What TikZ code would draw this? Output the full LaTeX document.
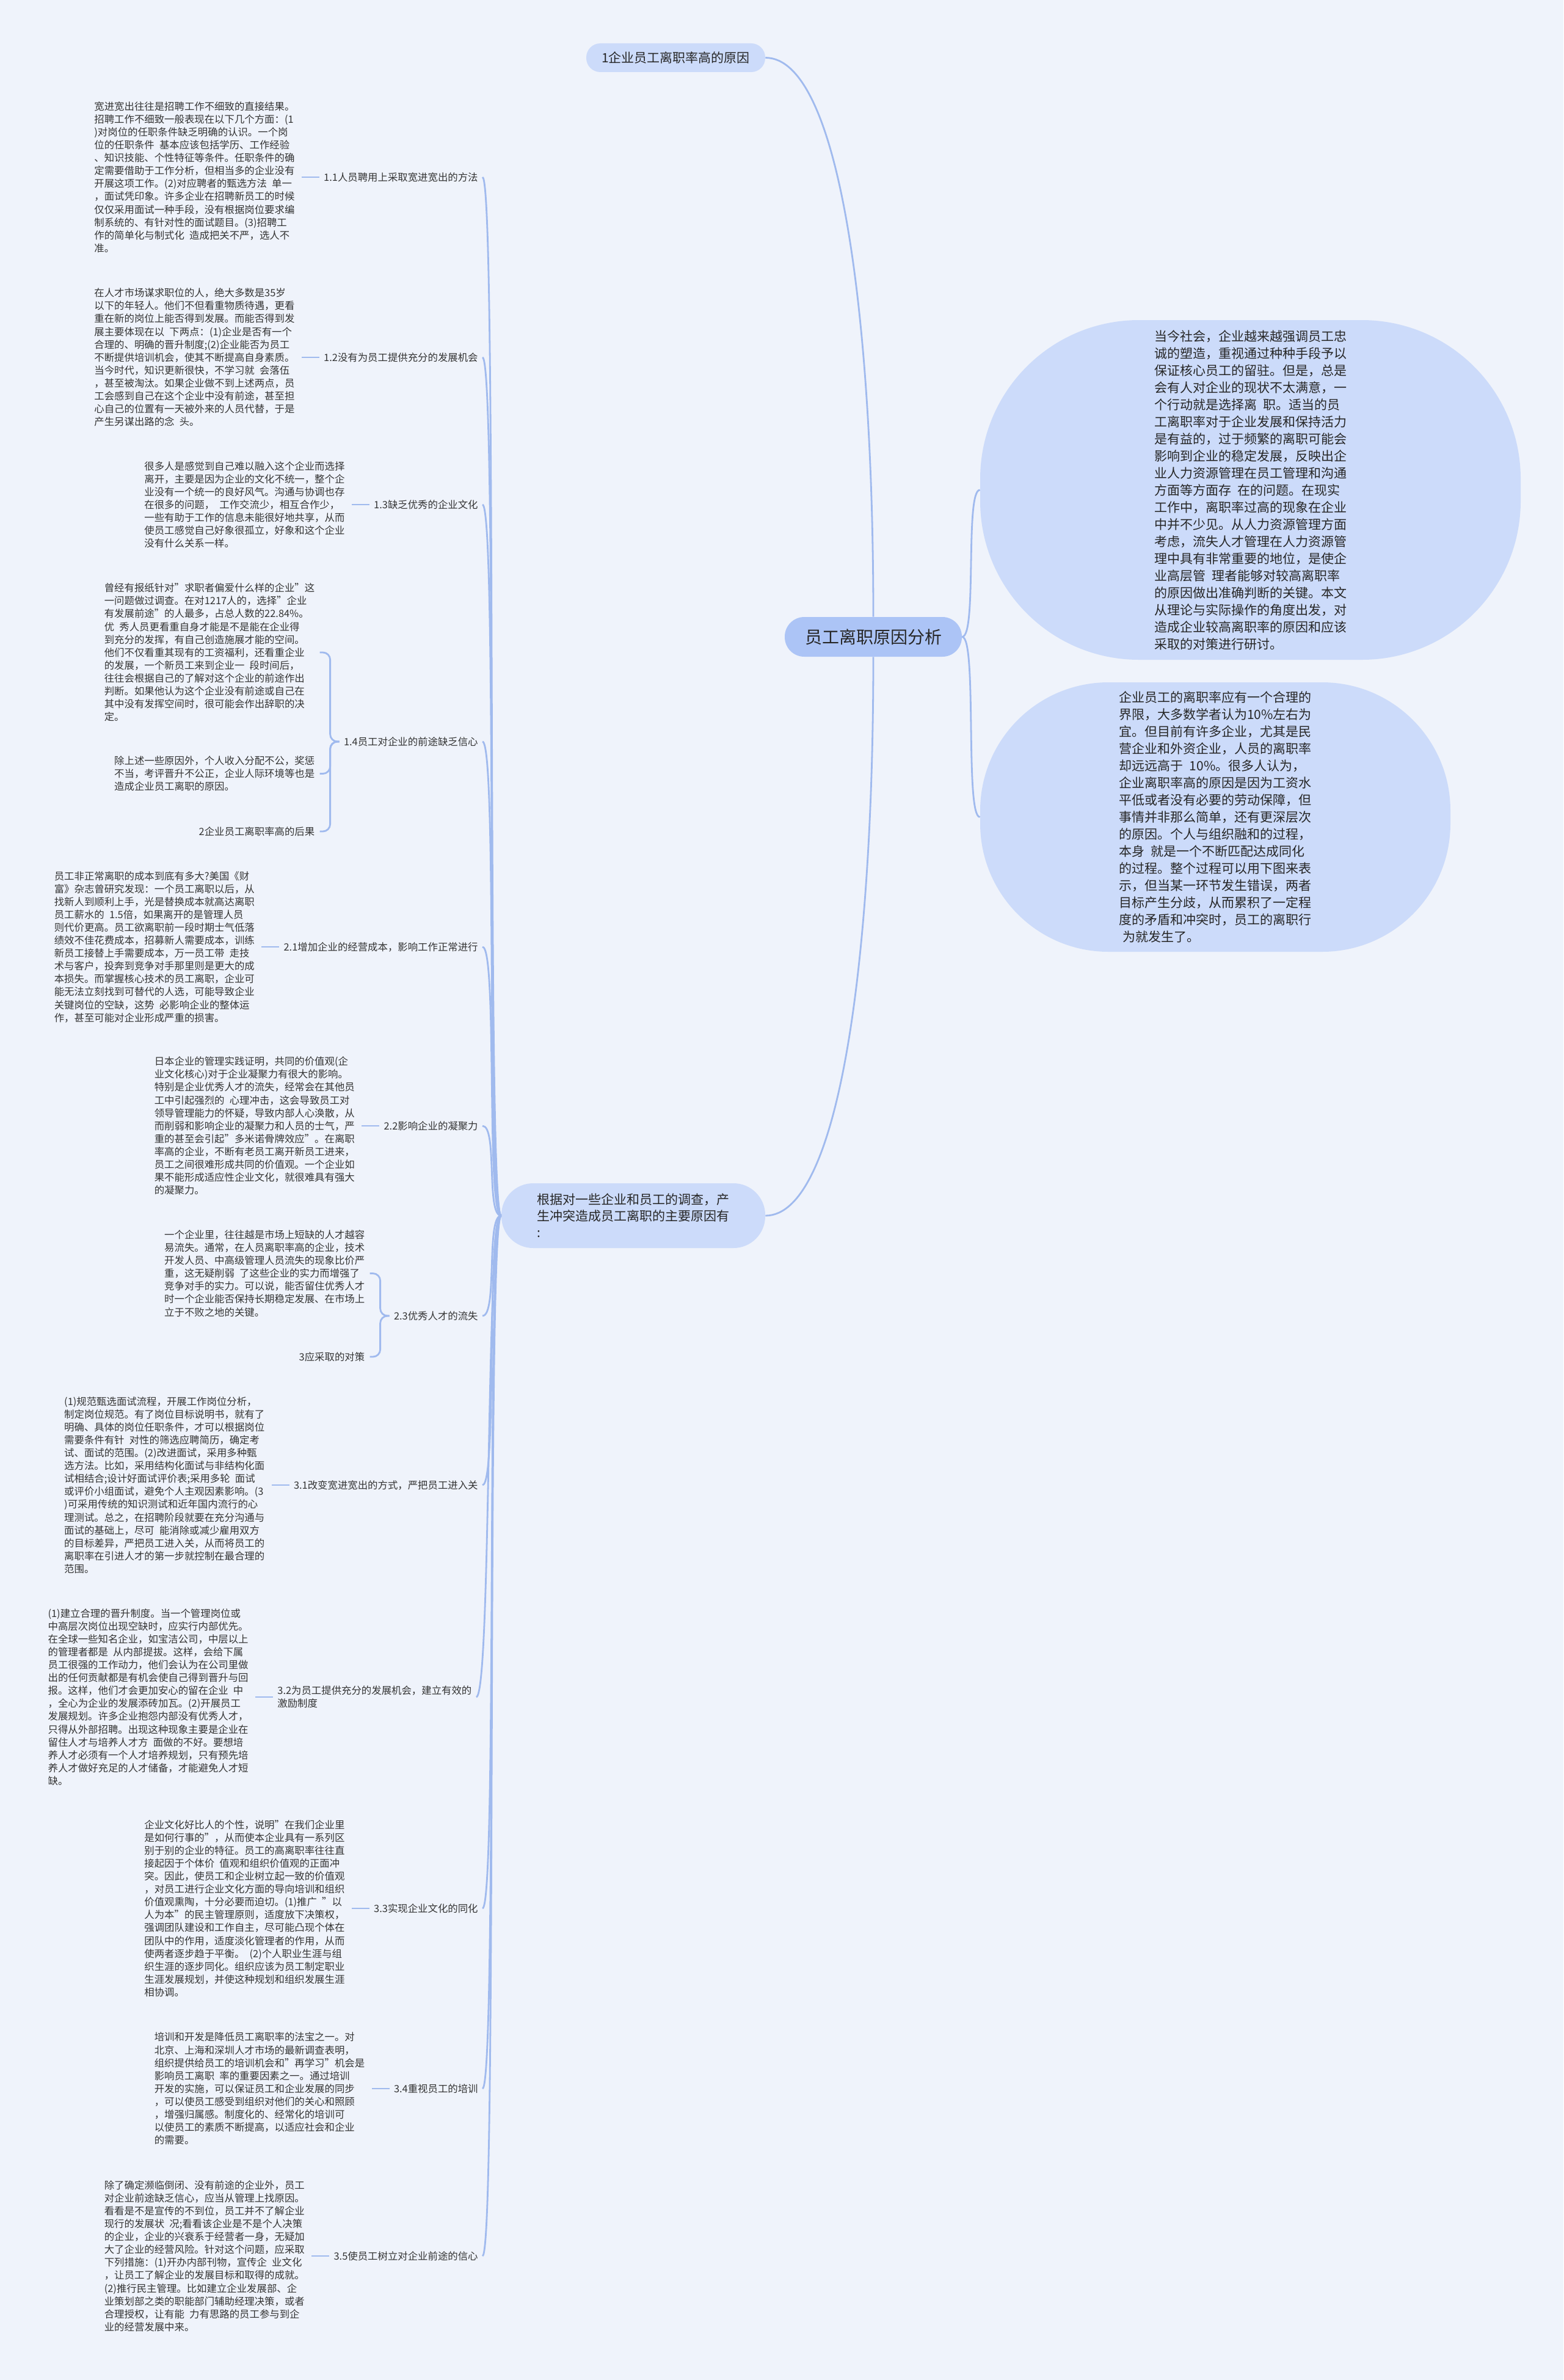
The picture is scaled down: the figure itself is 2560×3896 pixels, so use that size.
\documentclass[tikz,border=0pt]{standalone}
\usepackage{fontspec}
\setmainfont{Noto Sans CJK SC}
\usepackage{xcolor}
\usetikzlibrary{positioning}
\definecolor{bgblue}{RGB}{239,243,251}
\definecolor{paleblue}{RGB}{204,219,250}
\definecolor{midblue}{RGB}{172,196,246}
\definecolor{linkblue}{RGB}{160,186,238}
\definecolor{inkgray}{RGB}{51,51,51}
\newcommand{\gapsp}{\hspace{0.5em}}
\tikzset{
  topic/.style  ={rectangle, fill=paleblue, rounded corners=11.5pt,
                  minimum width=146.5pt, minimum height=23.5pt,
                  font=\fontsize{10.5pt}{13pt}\selectfont, text=black!85},
  root/.style   ={rectangle, fill=midblue, rounded corners=16pt,
                  minimum width=145pt, minimum height=32.5pt,
                  font=\fontsize{14pt}{17pt}\selectfont, text=black!85},
  blob/.style   ={rectangle, fill=paleblue, inner sep=0pt, align=left,
                  font=\fontsize{10.5pt}{14pt}\selectfont, text=black!85},
  lbl/.style    ={font=\fontsize{8.2pt}{10.55pt}\selectfont, align=left,
                  inner xsep=3.5pt, inner ysep=2pt},
  leaf/.style   ={font=\fontsize{8.2pt}{10.55pt}\selectfont, align=left,
                  inner sep=0pt}
}
\begin{document}
\begin{tikzpicture}[
  x=0.5pt, y=-0.5pt,
  every node/.style={text=inkgray},
  link/.style={draw=linkblue, line width=1.4pt},
  hook/.style={link, rounded corners=6pt, shorten >=4pt}
]
\fill[bgblue] (0,0) rectangle (2560,3896);
\useasboundingbox (0,0) rectangle (2560,3896);

% main topics
\node[root] (nc) at (1430,1042.5) {员工离职原因分析};
\node[topic] (n1) at (1106.5,94.5) {1企业员工离职率高的原因};
\node[topic, rounded corners=26pt, minimum width=216pt, minimum height=53pt,
      align=left, font=\fontsize{10.5pt}{13.5pt}\selectfont] (nb) at (1037,1990)
  {根据对一些企业和员工的调查，产\\生冲突造成员工离职的主要原因有\\:};
\node[blob, rounded corners=130pt, minimum width=442.5pt, minimum height=278pt]
  (r1) at (2047.5,802)
  {当今社会，企业越来越强调员工忠\\诚的塑造，重视通过种种手段予以\\保证核心员工的留驻。但是，总是\\会有人对企业的现状不太满意，一\\个行动就是选择离\gapsp 职。适当的员\\工离职率对于企业发展和保持活力\\是有益的，过于频繁的离职可能会\\影响到企业的稳定发展，反映出企\\业人力资源管理在员工管理和沟通\\方面等方面存\gapsp 在的问题。在现实\\工作中，离职率过高的现象在企业\\中并不少见。从人力资源管理方面\\考虑，流失人才管理在人力资源管\\理中具有非常重要的地位，是使企\\业高层管\gapsp 理者能够对较高离职率\\的原因做出准确判断的关键。本文\\从理论与实际操作的角度出发，对\\造成企业较高离职率的原因和应该\\采取的对策进行研讨。};
\node[blob, rounded corners=105pt, minimum width=385pt, minimum height=220.5pt]
  (r2) at (1990,1337.5)
  {企业员工的离职率应有一个合理的\\界限，大多数学者认为10\%左右为\\宜。但目前有许多企业，尤其是民\\营企业和外资企业，人员的离职率\\却远远高于\gapsp 10\%。很多人认为，\\企业离职率高的原因是因为工资水\\平低或者没有必要的劳动保障，但\\事情并非那么简单，还有更深层次\\的原因。个人与组织融和的过程，\\本身\gapsp 就是一个不断匹配达成同化\\的过程。整个过程可以用下图来表\\示，但当某一环节发生错误，两者\\目标产生分歧，从而累积了一定程\\度的矛盾和冲突时，员工的离职行\\\hspace*{3pt}为就发生了。};

\draw[link] (nc.north) .. controls +(0,-500) and +(120,0) .. (n1.east);
\draw[link] (nc.south) .. controls +(0,500) and +(120,0) .. (nb.east);
\draw[link] (nc.east) .. controls +(25,0) and +(-25,0) .. (r1.west);
\draw[link] (nc.east) .. controls +(25,0) and +(-25,0) .. (r2.west);

% second level labels
\node[lbl, anchor=east] (l11) at (790,290) {1.1人员聘用上采取宽进宽出的方法};
\node[lbl, anchor=east] (l12) at (790,585) {1.2没有为员工提供充分的发展机会};
\node[lbl, anchor=east] (l13) at (790,826) {1.3缺乏优秀的企业文化};
\node[lbl, anchor=east] (l14) at (790,1214) {1.4员工对企业的前途缺乏信心};
\node[lbl, anchor=east] (l21) at (790,1550) {2.1增加企业的经营成本，影响工作正常进行};
\node[lbl, anchor=east] (l22) at (790,1843) {2.2影响企业的凝聚力};
\node[lbl, anchor=east] (l23) at (790,2154) {2.3优秀人才的流失};
\node[lbl, anchor=east] (l31) at (790,2431) {3.1改变宽进宽出的方式，严把员工进入关};
\node[lbl, anchor=west] (l32) at (447,2778) {3.2为员工提供充分的发展机会，建立有效的\\激励制度};
\node[lbl, anchor=east] (l33) at (790,3124) {3.3实现企业文化的同化};
\node[lbl, anchor=east] (l34) at (790,3419) {3.4重视员工的培训};
\node[lbl, anchor=east] (l35) at (790,3693) {3.5使员工树立对企业前途的信心};

\draw[link] (nb.west) .. controls +(-25,0) and +(25,0) .. (l11.east);
\draw[link] (nb.west) .. controls +(-25,0) and +(25,0) .. (l12.east);
\draw[link] (nb.west) .. controls +(-25,0) and +(25,0) .. (l13.east);
\draw[link] (nb.west) .. controls +(-25,0) and +(25,0) .. (l14.east);
\draw[link] (nb.west) .. controls +(-25,0) and +(25,0) .. (l21.east);
\draw[link] (nb.west) .. controls +(-25,0) and +(25,0) .. (l22.east);
\draw[link] (nb.west) .. controls +(-25,0) and +(25,0) .. (l23.east);
\draw[link] (nb.west) .. controls +(-25,0) and +(25,0) .. (l31.east);
\draw[link] (nb.west) .. controls +(-25,0) and +(25,0) .. (l32.east);
\draw[link] (nb.west) .. controls +(-25,0) and +(25,0) .. (l33.east);
\draw[link] (nb.west) .. controls +(-25,0) and +(25,0) .. (l34.east);
\draw[link] (nb.west) .. controls +(-25,0) and +(25,0) .. (l35.east);

% text blocks
\node[leaf, left=20pt of l11] (t11)
  {宽进宽出往往是招聘工作不细致的直接结果。\\招聘工作不细致一般表现在以下几个方面：(1\\)对岗位的任职条件缺乏明确的认识。一个岗\\位的任职条件\gapsp 基本应该包括学历、工作经验\\、知识技能、个性特征等条件。任职条件的确\\定需要借助于工作分析，但相当多的企业没有\\开展这项工作。(2)对应聘者的甄选方法\gapsp 单一\\，面试凭印象。许多企业在招聘新员工的时候\\仅仅采用面试一种手段，没有根据岗位要求编\\制系统的、有针对性的面试题目。(3)招聘工\\作的简单化与制式化\gapsp 造成把关不严，选人不\\准。};
\node[leaf, left=20pt of l12] (t12)
  {在人才市场谋求职位的人，绝大多数是35岁\\以下的年轻人。他们不但看重物质待遇，更看\\重在新的岗位上能否得到发展。而能否得到发\\展主要体现在以\gapsp 下两点：(1)企业是否有一个\\合理的、明确的晋升制度;(2)企业能否为员工\\不断提供培训机会，使其不断提高自身素质。\\当今时代，知识更新很快，不学习就\gapsp 会落伍\\，甚至被淘汰。如果企业做不到上述两点，员\\工会感到自己在这个企业中没有前途，甚至担\\心自己的位置有一天被外来的人员代替，于是\\产生另谋出路的念\gapsp 头。};
\node[leaf, left=20pt of l13] (t13)
  {很多人是感觉到自己难以融入这个企业而选择\\离开，主要是因为企业的文化不统一，整个企\\业没有一个统一的良好风气。沟通与协调也存\\在很多的问题，\gapsp 工作交流少，相互合作少，\\一些有助于工作的信息未能很好地共享，从而\\使员工感觉自己好象很孤立，好象和这个企业\\没有什么关系一样。};
\node[leaf, left=20pt of l14, yshift=73pt] (t14a)
  {曾经有报纸针对"求职者偏爱什么样的企业"这\\一问题做过调查。在对1217人的，选择"企业\\有发展前途"的人最多，占总人数的22.84\%。\\优\gapsp 秀人员更看重自身才能是不是能在企业得\\到充分的发挥，有自己创造施展才能的空间。\\他们不仅看重其现有的工资福利，还看重企业\\的发展，一个新员工来到企业一\gapsp 段时间后，\\往往会根据自己的了解对这个企业的前途作出\\判断。如果他认为这个企业没有前途或自己在\\其中没有发挥空间时，很可能会作出辞职的决\\定。};
\node[leaf, left=20pt of l14, yshift=-26.25pt] (t14b)
  {除上述一些原因外，个人收入分配不公，奖惩\\不当，考评晋升不公正，企业人际环境等也是\\造成企业员工离职的原因。};
\node[leaf, left=20pt of l14, yshift=-73.5pt] (h2) {2企业员工离职率高的后果};
\node[leaf, left=20pt of l21] (t21)
  {员工非正常离职的成本到底有多大?美国《财\\富》杂志曾研究发现：一个员工离职以后，从\\找新人到顺利上手，光是替换成本就高达离职\\员工薪水的\gapsp 1.5倍，如果离开的是管理人员\\则代价更高。员工欲离职前一段时期士气低落\\绩效不佳花费成本，招募新人需要成本，训练\\新员工接替上手需要成本，万一员工带\gapsp 走技\\术与客户，投奔到竞争对手那里则是更大的成\\本损失。而掌握核心技术的员工离职，企业可\\能无法立刻找到可替代的人选，可能导致企业\\关键岗位的空缺，这势\gapsp 必影响企业的整体运\\作，甚至可能对企业形成严重的损害。};
\node[leaf, left=20pt of l22] (t22)
  {日本企业的管理实践证明，共同的价值观(企\\业文化核心)对于企业凝聚力有很大的影响。\\特别是企业优秀人才的流失，经常会在其他员\\工中引起强烈的\gapsp 心理冲击，这会导致员工对\\领导管理能力的怀疑，导致内部人心涣散，从\\而削弱和影响企业的凝聚力和人员的士气，严\\重的甚至会引起"多米诺骨牌效应"。在离职\\率高的企业，不断有老员工离开新员工进来，\\员工之间很难形成共同的价值观。一个企业如\\果不能形成适应性企业文化，就很难具有强大\\的凝聚力。};
\node[leaf, left=20pt of l23, yshift=34.75pt] (t23)
  {一个企业里，往往越是市场上短缺的人才越容\\易流失。通常，在人员离职率高的企业，技术\\开发人员、中高级管理人员流失的现象比价严\\重，这无疑削弱\gapsp 了这些企业的实力而增强了\\竞争对手的实力。可以说，能否留住优秀人才\\时一个企业能否保持长期稳定发展、在市场上\\立于不败之地的关键。};
\node[leaf, left=20pt of l23, yshift=-33.5pt] (h3) {3应采取的对策};
\node[leaf, left=20pt of l31] (t31)
  {(1)规范甄选面试流程，开展工作岗位分析，\\制定岗位规范。有了岗位目标说明书，就有了\\明确、具体的岗位任职条件，才可以根据岗位\\需要条件有针\gapsp 对性的筛选应聘简历，确定考\\试、面试的范围。(2)改进面试，采用多种甄\\选方法。比如，采用结构化面试与非结构化面\\试相结合;设计好面试评价表;采用多轮\gapsp 面试\\或评价小组面试，避免个人主观因素影响。(3\\)可采用传统的知识测试和近年国内流行的心\\理测试。总之，在招聘阶段就要在充分沟通与\\面试的基础上，尽可\gapsp 能消除或减少雇用双方\\的目标差异，严把员工进入关，从而将员工的\\离职率在引进人才的第一步就控制在最合理的\\范围。};
\node[leaf, left=20pt of l32] (t32)
  {(1)建立合理的晋升制度。当一个管理岗位或\\中高层次岗位出现空缺时，应实行内部优先。\\在全球一些知名企业，如宝洁公司，中层以上\\的管理者都是\gapsp 从内部提拔。这样，会给下属\\员工很强的工作动力，他们会认为在公司里做\\出的任何贡献都是有机会使自己得到晋升与回\\报。这样，他们才会更加安心的留在企业\gapsp 中\\，全心为企业的发展添砖加瓦。(2)开展员工\\发展规划。许多企业抱怨内部没有优秀人才，\\只得从外部招聘。出现这种现象主要是企业在\\留住人才与培养人才方\gapsp 面做的不好。要想培\\养人才必须有一个人才培养规划，只有预先培\\养人才做好充足的人才储备，才能避免人才短\\缺。};
\node[leaf, left=20pt of l33] (t33)
  {企业文化好比人的个性，说明"在我们企业里\\是如何行事的"，从而使本企业具有一系列区\\别于别的企业的特征。员工的高离职率往往直\\接起因于个体价\gapsp 值观和组织价值观的正面冲\\突。因此，使员工和企业树立起一致的价值观\\，对员工进行企业文化方面的导向培训和组织\\价值观熏陶，十分必要而迫切。(1)推广\gapsp "以\\人为本"的民主管理原则，适度放下决策权，\\强调团队建设和工作自主，尽可能凸现个体在\\团队中的作用，适度淡化管理者的作用，从而\\使两者逐步趋于平衡。\gapsp (2)个人职业生涯与组\\织生涯的逐步同化。组织应该为员工制定职业\\生涯发展规划，并使这种规划和组织发展生涯\\相协调。};
\node[leaf, left=20pt of l34] (t34)
  {培训和开发是降低员工离职率的法宝之一。对\\北京、上海和深圳人才市场的最新调查表明，\\组织提供给员工的培训机会和"再学习"机会是\\影响员工离职\gapsp 率的重要因素之一。通过培训\\开发的实施，可以保证员工和企业发展的同步\\，可以使员工感受到组织对他们的关心和照顾\\，增强归属感。制度化的、经常化的培训可\\以使员工的素质不断提高，以适应社会和企业\\的需要。};
\node[leaf, left=20pt of l35] (t35)
  {除了确定濒临倒闭、没有前途的企业外，员工\\对企业前途缺乏信心，应当从管理上找原因。\\看看是不是宣传的不到位，员工并不了解企业\\现行的发展状\gapsp 况;看看该企业是不是个人决策\\的企业，企业的兴衰系于经营者一身，无疑加\\大了企业的经营风险。针对这个问题，应采取\\下列措施：(1)开办内部刊物，宣传企\gapsp 业文化\\，让员工了解企业的发展目标和取得的成就。\\(2)推行民主管理。比如建立企业发展部、企\\业策划部之类的职能部门辅助经理决策，或者\\合理授权，让有能\gapsp 力有思路的员工参与到企\\业的经营发展中来。};

\draw[link, shorten >=5.5pt] (l11.west) -- (t11.east);
\draw[link, shorten >=5.5pt] (l12.west) -- (t12.east);
\draw[link, shorten >=5.5pt] (l13.west) -- (t13.east);
\draw[hook] (l14.west) -- ++(-15,0) |- (t14a.east);
\draw[hook] (l14.west) -- ++(-15,0) |- (t14b.east);
\draw[hook] (l14.west) -- ++(-15,0) |- (h2.east);
\draw[link, shorten >=5.5pt] (l21.west) -- (t21.east);
\draw[link, shorten >=5.5pt] (l22.west) -- (t22.east);
\draw[hook] (l23.west) -- ++(-15,0) |- (t23.east);
\draw[hook] (l23.west) -- ++(-15,0) |- (h3.east);
\draw[link, shorten >=5.5pt] (l31.west) -- (t31.east);
\draw[link, shorten >=5.5pt] (l32.west) -- (t32.east);
\draw[link, shorten >=5.5pt] (l33.west) -- (t33.east);
\draw[link, shorten >=5.5pt] (l34.west) -- (t34.east);
\draw[link, shorten >=5.5pt] (l35.west) -- (t35.east);
\end{tikzpicture}
\end{document}
